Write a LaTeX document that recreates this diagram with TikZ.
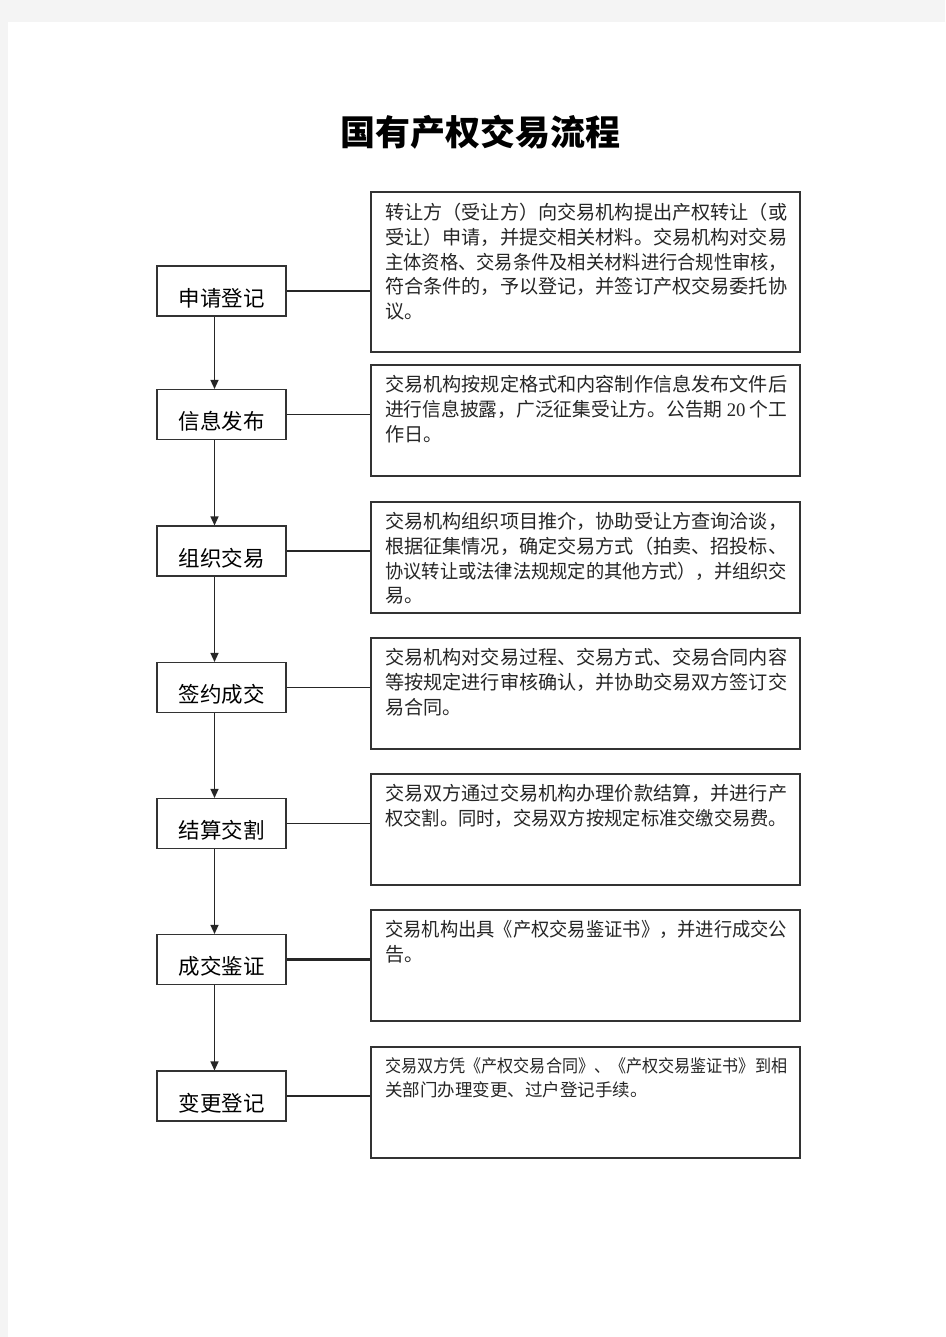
\documentclass[tikz,border=0pt]{standalone}
\usepackage{fontspec}
\usepackage{graphicx}
\usetikzlibrary{arrows.meta}
\newfontfamily\cjk{Noto Sans CJK SC}
\newfontfamily\latserif{Liberation Serif}
\definecolor{pagebg}{HTML}{F4F4F4}
\definecolor{edge}{HTML}{333333}
\newcommand{\jl}[1]{\resizebox{402pt}{\height}{#1}}
\tikzset{
  lbox/.style={draw=edge, line width=1.1pt, fill=white, minimum width=129pt, minimum height=50pt, inner sep=0pt,
    font=\cjk\fontsize{21.5}{21.5}\selectfont, text height=30pt, text depth=0pt},
  rbox/.style={draw=edge, line width=1.1pt, fill=white, minimum width=429pt, minimum height=111pt, inner sep=0pt},
  rtext/.style={anchor=base west, inner sep=0pt, font=\cjk\fontsize{19.14}{24.8}\selectfont, text=black!85},
  conn/.style={draw=black!85, line width=1.1pt},
  arr/.style={draw=black!85, line width=1.3pt, -{Triangle[length=9pt,width=8pt]}}
}
\begin{document}
\begin{tikzpicture}[x=1pt,y=-1pt]
\useasboundingbox (0,0) rectangle (945,1337);
\fill[pagebg] (0,0) rectangle (945,1337);
\fill[white] (8,22) rectangle (945,1337);

\node (title) at (480,132) {\cjk\bfseries\fontsize{35}{35}\selectfont 国有产权交易流程};

% left step boxes
\node[lbox] (a1) at (221.5,291) {申请登记};
\node[lbox] (a2) at (221.5,414.5) {信息发布};
\node[lbox] (a3) at (221.5,551) {组织交易};
\node[lbox] (a4) at (221.5,687.5) {签约成交};
\node[lbox] (a5) at (221.5,823.5) {结算交割};
\node[lbox] (a6) at (221.5,959.5) {成交鉴证};
\node[lbox] (a7) at (221.5,1096) {变更登记};

% right description boxes
\node[rbox, minimum height=160pt] (r1) at (585.5,272) {};
\node[rbox] (r2) at (585.5,420.5) {};
\node[rbox] (r3) at (585.5,557.5) {};
\node[rbox] (r4) at (585.5,693.5) {};
\node[rbox] (r5) at (585.5,829.5) {};
\node[rbox] (r6) at (585.5,965.5) {};
\node[rbox] (r7) at (585.5,1102.5) {};

% texts
\node[rtext] (t1) at (385,219.5) {\parbox[t]{420pt}{%
转让方（受让方）向交易机构提出产权转让（或\\
受让）申请，并提交相关材料。交易机构对交易\\
\jl{主体资格、交易条件及相关材料进行合规性审核，}\\
符合条件的，予以登记，并签订产权交易委托协\\
议。}};
\node[rtext] (t2) at (385,391.5) {\parbox[t]{420pt}{%
交易机构按规定格式和内容制作信息发布文件后\\
\jl{进行信息披露，广泛征集受让方。公告期 {\latserif 20} 个工}\\
作日。}};
\node[rtext] (t3) at (385,528.5) {\parbox[t]{420pt}{%
交易机构组织项目推介，协助受让方查询洽谈，\\
根据征集情况，确定交易方式（拍卖、招投标、\\
\jl{协议转让或法律法规规定的其他方式），并组织交}\\
易。}};
\node[rtext] (t4) at (385,664.5) {\parbox[t]{420pt}{%
交易机构对交易过程、交易方式、交易合同内容\\
等按规定进行审核确认，并协助交易双方签订交\\
易合同。}};
\node[rtext] (t5) at (385,800.5) {\parbox[t]{420pt}{%
交易双方通过交易机构办理价款结算，并进行产\\
\jl{权交割。同时，交易双方按规定标准交缴交易费。}}};
\node[rtext] (t6) at (385,936.5) {\parbox[t]{420pt}{%
\jl{交易机构出具《产权交易鉴证书》，并进行成交公}\\
告。}};
\node[rtext, font=\cjk\fontsize{17.5}{24}\selectfont] (t7) at (385,1072) {\parbox[t]{420pt}{%
\jl{交易双方凭《产权交易合同》、《产权交易鉴证书》到相}\\
关部门办理变更、过户登记手续。}};

% connectors
\draw[conn] (a1) -- (a1 -| r1.west);
\draw[conn] (a2) -- (a2 -| r2.west);
\draw[conn] (a3) -- (a3 -| r3.west);
\draw[conn] (a4) -- (a4 -| r4.west);
\draw[conn] (a5) -- (a5 -| r5.west);
\draw[conn, line width=2.2pt] (a6) -- (a6 -| r6.west);
\draw[conn] (a7) -- (a7 -| r7.west);

% arrows
\draw[arr] ([xshift=-7pt]a1.south) -- ([xshift=-7pt]a2.north);
\draw[arr] ([xshift=-7pt]a2.south) -- ([xshift=-7pt]a3.north);
\draw[arr] ([xshift=-7pt]a3.south) -- ([xshift=-7pt]a4.north);
\draw[arr] ([xshift=-7pt]a4.south) -- ([xshift=-7pt]a5.north);
\draw[arr] ([xshift=-7pt]a5.south) -- ([xshift=-7pt]a6.north);
\draw[arr] ([xshift=-7pt]a6.south) -- ([xshift=-7pt]a7.north);
\end{tikzpicture}
\end{document}
